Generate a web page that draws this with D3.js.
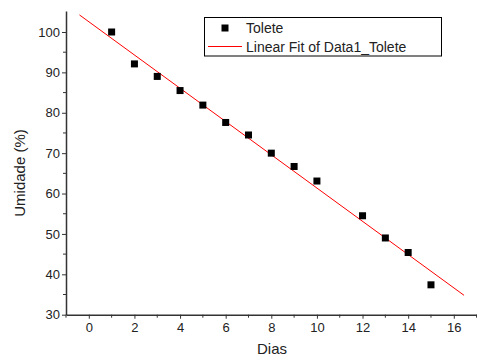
<!DOCTYPE html>
<html>
<head>
<meta charset="utf-8">
<script src="https://cdn.jsdelivr.net/npm/d3@7"></script>
<style>
  body { margin: 0; background: #fff; }
  text { font-family: Arial, "Liberation Sans", sans-serif; fill: #222; }
</style>
</head>
<body>
<script>
// dias / umidade
var dias = [1, 2, 3, 4, 5, 6, 7, 8, 9, 10, 12, 13, 14, 15];
var umidade = [100, 92.1, 89, 85.5, 81.9, 77.6, 74.5, 70, 66.7, 63.1, 54.5, 49, 45.4, 37.4];
var fitRange = [-0.41, 16.45];
var xTicks = [0, 2, 4, 6, 8, 10, 12, 14, 16];
var yTicks = [30, 40, 50, 60, 70, 80, 90, 100];
var legendLabels = ["Tolete", "Linear Fit of Data1_Tolete"];

var width = 477, height = 358;
var svg = d3.select("body").append("svg")
  .attr("width", width)
  .attr("height", height);

var x = d3.scaleLinear().domain([-1, 17]).range([66, 476.6]);
var y = d3.scaleLinear().domain([30, 105.2]).range([314.7, 11]);

// least squares fit
var mx = d3.mean(dias), my = d3.mean(umidade);
var sxy = d3.sum(dias, function(d, i) { return (d - mx) * (umidade[i] - my); });
var sxx = d3.sum(dias, function(d) { return (d - mx) * (d - mx); });
var slope = sxy / sxx, intercept = my - slope * mx;

var axisColor = "#333";

// minor ticks
var xMinor = d3.range(-1, 17.1, 1).filter(function(v) { return v % 2 !== 0; });
var yMinor = d3.range(35, 105, 10);

var gx = svg.append("g").attr("transform", "translate(0," + y(30) + ")");
gx.call(d3.axisBottom(x).tickValues(xTicks).tickSize(4).tickPadding(4).tickSizeOuter(0));
gx.append("g").selectAll("line").data(xMinor).enter().append("line")
  .attr("x1", x).attr("x2", x).attr("y1", 0).attr("y2", 3)
  .attr("stroke", axisColor);

var gy = svg.append("g").attr("transform", "translate(" + x(-1) + ",0)");
gy.call(d3.axisLeft(y).tickValues(yTicks).tickSize(4).tickPadding(2).tickSizeOuter(0));
gy.append("g").selectAll("line").data(yMinor).enter().append("line")
  .attr("y1", y).attr("y2", y).attr("x1", 0).attr("x2", -3)
  .attr("stroke", axisColor);

svg.selectAll(".domain").attr("stroke", axisColor).attr("stroke-width", 1.5);
svg.selectAll(".tick line").attr("stroke", axisColor);
svg.selectAll(".tick text").attr("font-size", 13).attr("fill", "#222")
  .attr("font-family", "Arial, 'Liberation Sans', sans-serif");

// fit line
svg.append("line")
  .attr("x1", x(fitRange[0])).attr("y1", y(intercept + slope * fitRange[0]))
  .attr("x2", x(fitRange[1])).attr("y2", y(intercept + slope * fitRange[1]))
  .attr("stroke", "#ff0000").attr("stroke-width", 1);

// points
svg.append("g").selectAll("rect").data(dias).enter().append("rect")
  .attr("x", function(d) { return x(d) - 3.5; })
  .attr("y", function(d, i) { return y(umidade[i]) - 3.5; })
  .attr("width", 7).attr("height", 7)
  .attr("fill", "#000");

// axis titles
svg.append("text").attr("x", 272).attr("y", 354)
  .attr("text-anchor", "middle").attr("font-size", 15).text("Dias");
svg.append("text").attr("transform", "translate(25,173) rotate(-90)")
  .attr("text-anchor", "middle").attr("font-size", 15).text("Umidade (%)");

// legend
var lg = svg.append("g");
lg.append("rect").attr("x", 204.5).attr("y", 17.5).attr("width", 237).attr("height", 38.5)
  .attr("fill", "#fff").attr("stroke", "#000").attr("stroke-width", 1);
lg.append("rect").attr("x", 221.5).attr("y", 24.5).attr("width", 7).attr("height", 7).attr("fill", "#000");
lg.append("line").attr("x1", 208).attr("x2", 242).attr("y1", 46.5).attr("y2", 46.5)
  .attr("stroke", "#ff0000").attr("stroke-width", 1);
lg.selectAll("text.lbl").data(legendLabels).enter().append("text")
  .attr("class", "lbl")
  .attr("x", 246)
  .attr("y", function(d, i) { return 33 + i * 18.5; })
  .attr("font-size", 14)
  .text(function(d) { return d; });
</script>
</body>
</html>
